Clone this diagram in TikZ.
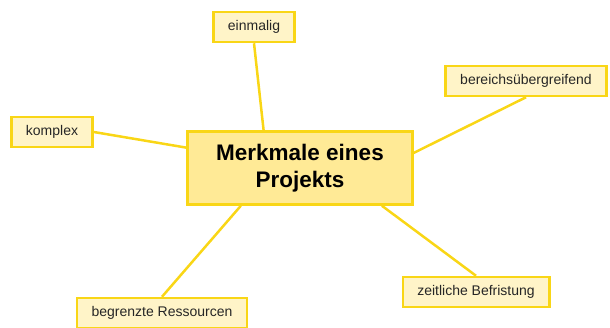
\documentclass[tikz,border=0pt]{standalone}
\usepackage{fontspec}
\setmainfont{Liberation Sans}
\usetikzlibrary{calc}
\definecolor{gelb}{HTML}{F9D616}
\definecolor{hellgelb}{HTML}{FFF4C8}
\definecolor{mittelgelb}{HTML}{FFEA96}
\begin{document}
\begin{tikzpicture}[x=1pt,y=-1pt,
  merkmal/.style={draw=gelb,fill=hellgelb,line width=2.5pt,minimum height=30pt,inner xsep=14.5pt,text=black!85,font=\fontsize{14}{16}\selectfont},
  thema/.style={draw=gelb,fill=mittelgelb,line width=2.5pt,minimum width=225pt,minimum height=73pt,align=center,font=\bfseries\fontsize{22.5}{27}\selectfont},
  ast/.style={draw=gelb,line width=2.5pt}]
\useasboundingbox (0,0) rectangle (610,327);
\node[thema] (m) at (300,168) {Merkmale eines\\Projekts};
\node[merkmal] (einmalig) at (254,27) {einmalig};
\node[merkmal] (komplex) at (52,132) {komplex};
\node[merkmal] (bereich) at (526,81) {bereichsübergreifend};
\node[merkmal] (ressourcen) at (162,313) {begrenzte Ressourcen};
\node[merkmal] (frist) at (476,292) {zeitliche Befristung};
\draw[ast] (einmalig.south) -- ($(m.north west)!0.34!(m.north east)$);
\draw[ast] (komplex.east) -- ($(m.north west)!0.23!(m.south west)$);
\draw[ast] (bereich.south) -- ($(m.north east)!0.30!(m.south east)$);
\draw[ast] (ressourcen.north) -- ($(m.south west)!0.24!(m.south east)$);
\draw[ast] (frist.north) -- ($(m.south west)!0.86!(m.south east)$);
\end{tikzpicture}
\end{document}
